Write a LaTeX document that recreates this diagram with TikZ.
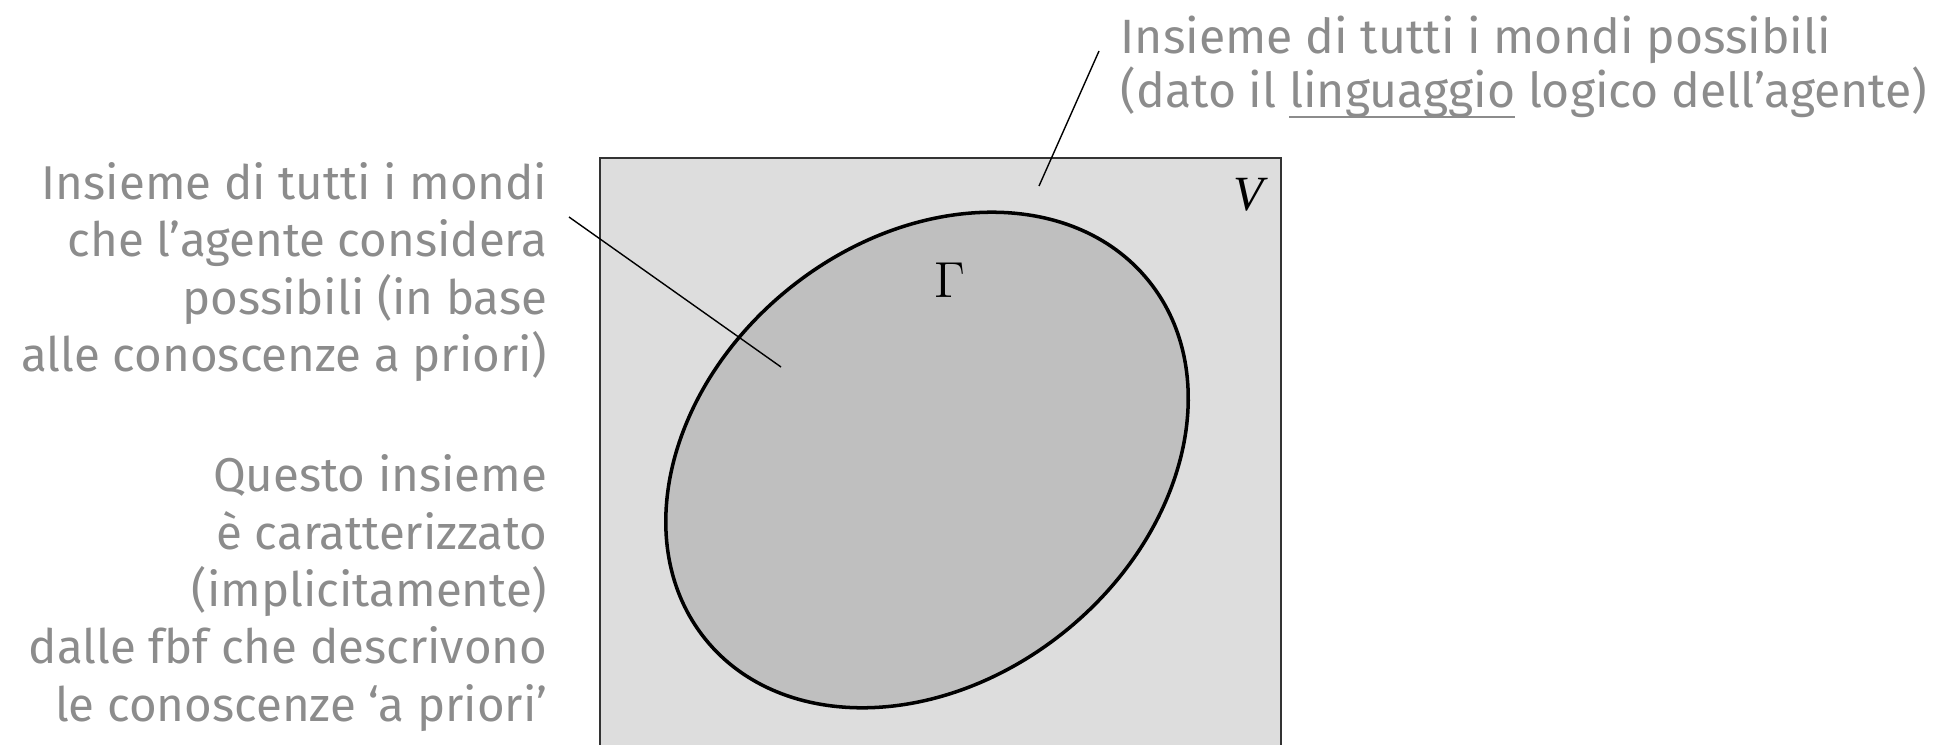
\documentclass[tikz,border=0pt]{standalone}
\usepackage{fontspec}
\setmainfont{Liberation Serif}
\newfontfamily\notefont{Fira Sans}
\usepackage{xcolor}
\definecolor{notegray}{gray}{0.55}
\definecolor{outerfill}{gray}{0.865}
\definecolor{innerfill}{gray}{0.75}
\newlength{\ulwidth}
\newcommand{\ulword}[1]{\settowidth{\ulwidth}{#1}\rlap{\rule[-3pt]{\ulwidth}{0.5pt}}#1}

\begin{document}
\begin{tikzpicture}[
      note/.style={align=right, inner sep=0pt, text=notegray,
        font=\notefont\fontsize{13.5}{16.3}\selectfont},
      topnote/.style={align=left, inner sep=0pt, text=notegray,
        font=\notefont\fontsize{13.7}{15.2}\selectfont},
      leader/.style={draw=black, line width=0.4pt},
      setname/.style={inner sep=0pt, font=\fontsize{14}{16}\selectfont}
    ]
    \useasboundingbox (0,0) rectangle (19.44,7.44);
    \clip (0,0) rectangle (19.44,7.44);

    % the two sets
    \filldraw[fill=outerfill, draw=black!80, line width=0.5pt]
      (6.00,-0.1) rectangle (12.81,5.86);
    \filldraw[fill=innerfill, draw=black, line width=1pt]
      (9.27,2.84) ellipse [x radius=2.85, y radius=2.20, rotate=39];
    \node[setname] (V) at (12.51,5.49) {\textit{V}};
    \node[setname] (Gamma) at (9.50,4.64) {$\Gamma$};

    % the notes
    \node[topnote, anchor=west] (allworlds) at (11.20,6.77)
      {Insieme di tutti i mondi possibili\\
       (dato il \ulword{linguaggio} logico dell’agente)};
    \node[note, anchor=east] (agentworlds) at (5.48,4.72)
      {Insieme di tutti i mondi\\
       che l’agente considera\\
       possibili (in base\\
       alle conoscenze a priori)};
    \node[note, anchor=east] (fbfnote) at (5.48,1.51)
      {Questo insieme\\
       è caratterizzato\\
       (implicitamente)\\
       dalle fbf che descrivono\\
       le conoscenze ‘a priori’};

    % leader lines
    \coordinate (topstart) at (10.99,6.93);
    \coordinate (topend) at (10.39,5.58);
    \coordinate (leftstart) at (5.69,5.27);
    \coordinate (leftend) at (7.81,3.77);
    \draw[leader] (topstart) -- (topend);
    \draw[leader] (leftstart) -- (leftend);
\end{tikzpicture}
\end{document}
